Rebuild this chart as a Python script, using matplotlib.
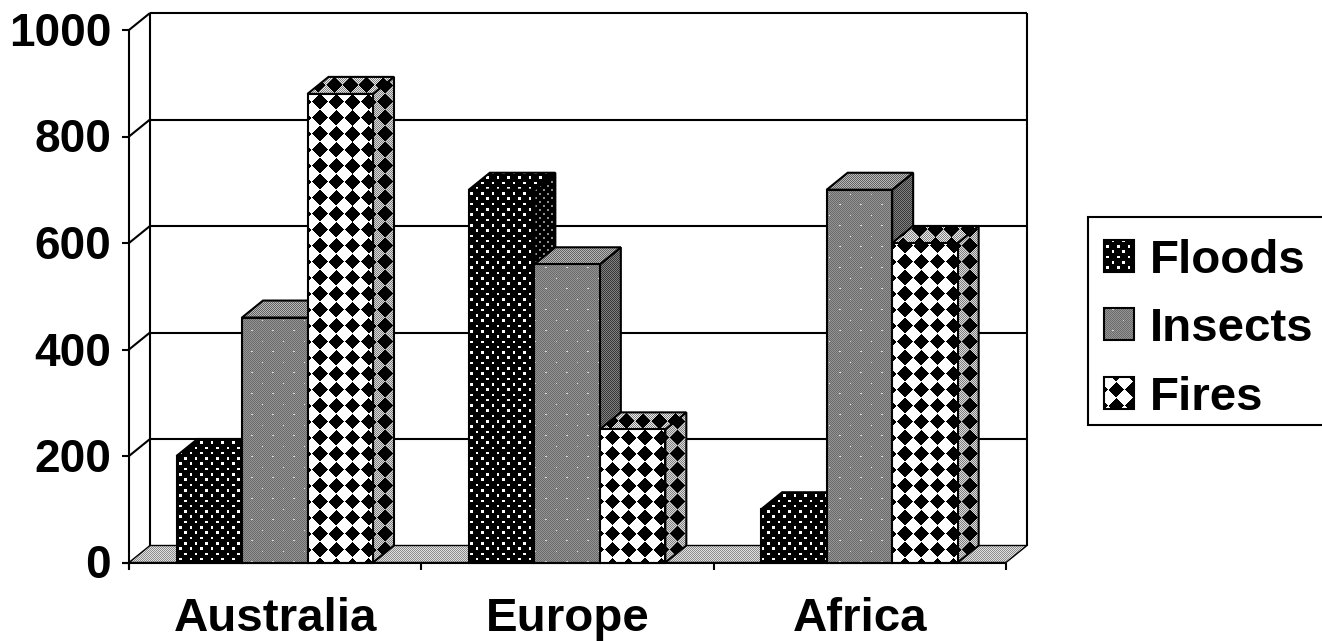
"""
disasters_3d_bars.py
Clustered pseudo-3D bar chart of disaster counts per continent,
with old-style bitmap fill patterns.
"""

import numpy as np
import matplotlib
matplotlib.use('Agg')
import matplotlib.pyplot as plt
from matplotlib.patches import Polygon, Rectangle

W, H = 1322, 641

CATEGORIES = ['Australia', 'Europe', 'Africa']
SERIES = ['Floods', 'Insects', 'Fires']
FLOODS = [200, 700, 100]
INSECTS = [460, 560, 700]
FIRES = [880, 250, 600]
Y_TICKS = [0, 200, 400, 600, 800, 1000]

# chart frame, in pixels
X0, X1 = 129, 1006
Y_BASE, Y_TOP = 562.5, 30
DEPTH_X, DEPTH_Y = 21, -17
BAR_W = 65.5
BAR_MARGIN = 47.5

FONT = {'family': 'Liberation Sans', 'fontweight': 'bold', 'fontsize': 33, 'color': 'black'}
FONT_BIG = dict(FONT, fontsize=34.2)

yy, xx = np.mgrid[0:H, 0:W] + 0.5


def val_y(v):
    return Y_BASE - (Y_BASE - Y_TOP) * v / 1000.0


def checker(low, high):
    return np.where((xx.astype(int) + yy.astype(int)) % 2 == 0, low, high)


def stagger_dots(base, dot, px=10.6, py=5.3, size=1.5, ox=0.0, oy=0.0):
    # staggered grid of small dots on top of a base layer
    row = np.floor((yy - oy) / py)
    fx = (xx - ox - (row % 2) * px / 2) % px
    fy = (yy - oy) % py
    hit = (np.abs(fx - px / 2) < size) & (np.abs(fy - py / 2) < size)
    return np.where(hit, dot, base)


def diamonds(base, px=16.25, py=16.0, r=7.8, ox=320.0, oy=101.7):
    # diamonds on a regular grid
    dx = np.abs((xx - ox + px / 2) % px - px / 2)
    dy = np.abs((yy - oy + py / 2) % py - py / 2)
    return np.where(dx + dy < r, 0.0, base)


TEX_BLACK_DOTS = stagger_dots(np.zeros((H, W)), 1.0, size=1.3)
TEX_BLACK_DOTS_DARK = stagger_dots(np.zeros((H, W)), 0.55, px=8, py=4, size=1.0)
TEX_GREY = stagger_dots(checker(0.42, 0.58), 0.85, px=21, py=10.5, size=0.6)
TEX_GREY_DARK = checker(0.22, 0.5)
TEX_GREY_LIGHT = checker(0.38, 0.72)
TEX_FLOOR = checker(0.55, 0.88)
TEX_FIRE = diamonds(np.ones((H, W)))
TEX_FIRE_SIDE = diamonds(checker(0.5, 0.85), ox=385.0)
TEX_FIRE_TOP = diamonds(checker(0.5, 0.92), ox=318.0, oy=85.0)

STYLES = {
    'Floods': (TEX_BLACK_DOTS, TEX_BLACK_DOTS, TEX_BLACK_DOTS_DARK),
    'Insects': (TEX_GREY, TEX_GREY_LIGHT, TEX_GREY_DARK),
    'Fires': (TEX_FIRE, TEX_FIRE_TOP, TEX_FIRE_SIDE),
}


def fill(ax, pts, tex, z, lw=1.5):
    im = ax.imshow(tex, cmap='gray', vmin=0, vmax=1, extent=(0, W, H, 0),
                   interpolation='nearest', aspect='auto', zorder=z)
    poly = Polygon(pts, closed=True, transform=ax.transData)
    im.set_clip_path(poly)
    ax.add_patch(Polygon(pts, closed=True, fill=False, ec='black', lw=lw, zorder=z + 0.01))


def draw_bar(ax, left, value, name, z):
    front, top, side = STYLES[name]
    right = left + BAR_W
    yt = val_y(value)
    fill(ax, [(right, Y_BASE), (right + DEPTH_X, Y_BASE + DEPTH_Y),
              (right + DEPTH_X, yt + DEPTH_Y), (right, yt)], side, z)
    fill(ax, [(left, yt), (left + DEPTH_X, yt + DEPTH_Y),
              (right + DEPTH_X, yt + DEPTH_Y), (right, yt)], top, z + 0.1)
    fill(ax, [(left, Y_BASE), (left, yt), (right, yt), (right, Y_BASE)], front, z + 0.2)


def main():
    fig = plt.figure(figsize=(W / 100, H / 100), dpi=100, facecolor='white')
    ax = fig.add_axes([0, 0, 1, 1])
    ax.set_xlim(0, W)
    ax.set_ylim(H, 0)
    ax.axis('off')

    step = (X1 - X0) / len(CATEGORIES)
    line = dict(color='black', lw=1.5, solid_capstyle='butt')

    # floor
    fill(ax, [(X0, Y_BASE), (X0 + DEPTH_X, Y_BASE + DEPTH_Y),
              (X1 + DEPTH_X, Y_BASE + DEPTH_Y), (X1, Y_BASE)], TEX_FLOOR, 1, lw=1.0)

    # back wall, gridlines and y axis
    ax.plot([X0 + DEPTH_X, X0 + DEPTH_X], [Y_TOP + DEPTH_Y, Y_BASE + DEPTH_Y], zorder=2, **line)
    ax.plot([X1 + DEPTH_X, X1 + DEPTH_X], [Y_TOP + DEPTH_Y, Y_BASE + DEPTH_Y], zorder=2, **line)
    ax.plot([X0, X0], [Y_TOP, Y_BASE + 6], zorder=2, **line)
    for v in Y_TICKS:
        y = val_y(v)
        if v > 0:
            ax.plot([X0 + DEPTH_X, X1 + DEPTH_X], [y + DEPTH_Y, y + DEPTH_Y], zorder=2, **line)
            ax.plot([X0, X0 + DEPTH_X], [y, y + DEPTH_Y], zorder=2, **line)
        ax.plot([X0 - 7, X0], [y, y], zorder=2, **line)
        ax.text(X0 - 18, y - 1, str(v), ha='right', va='center_baseline', **FONT)

    # x axis
    ax.plot([X0 - 7, X1], [Y_BASE, Y_BASE], zorder=20, **line)
    for i in range(len(CATEGORIES) + 1):
        x = X0 + i * step
        ax.plot([x, x], [Y_BASE, Y_BASE + 7], zorder=20, **line)

    # bars
    for i, cat in enumerate(CATEGORIES):
        start = X0 + i * step + BAR_MARGIN
        for j, (name, vals) in enumerate(zip(SERIES, [FLOODS, INSECTS, FIRES])):
            draw_bar(ax, start + j * BAR_W, vals[i], name, 5 + i + j * 0.3)
        ax.text(X0 + (i + 0.5) * step, 614, cat, ha='center', va='center_baseline', **FONT_BIG)

    # legend box
    ax.add_patch(Rectangle((1087.5, 217), 240, 208, fc='white', ec='black', lw=1.5, zorder=10))
    for name, yc in zip(SERIES, [256, 324, 393]):
        front = STYLES[name][0]
        sw = [(1104, yc - 16), (1134, yc - 16), (1134, yc + 16), (1104, yc + 16)]
        fill(ax, sw, front, 11)
        ax.text(1150, yc, name, ha='left', va='center_baseline', zorder=12, **FONT_BIG)

    fig.savefig('out.png', dpi=100, facecolor='white')
    plt.close(fig)


if __name__ == '__main__':
    main()
